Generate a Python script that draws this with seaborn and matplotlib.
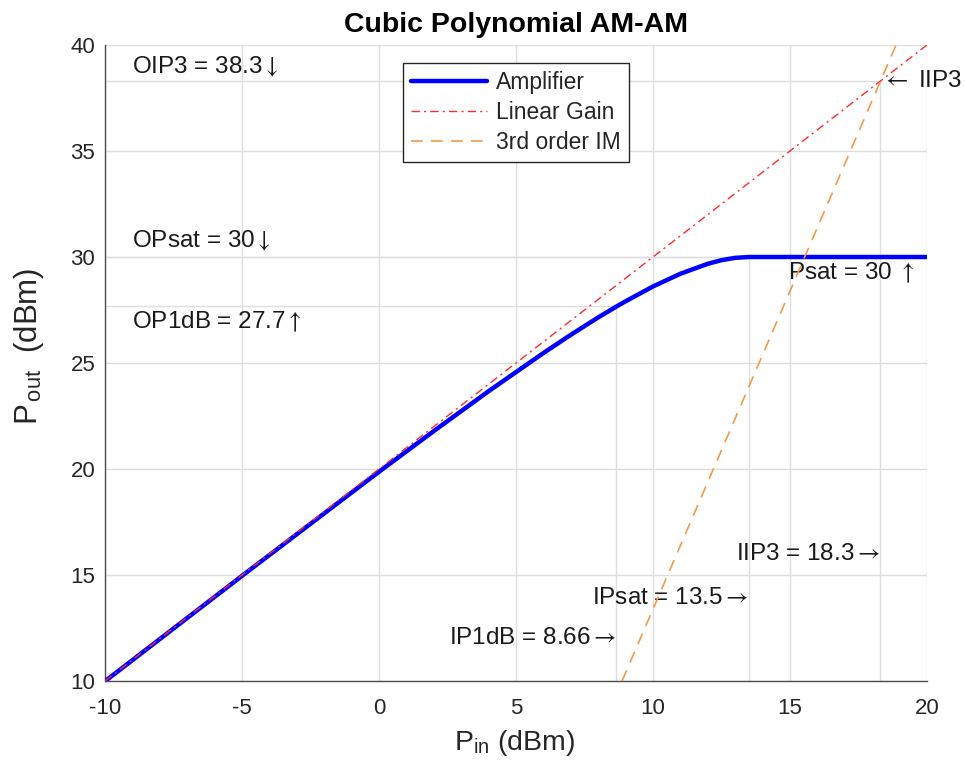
import matplotlib
matplotlib.use("Agg")
import matplotlib.pyplot as plt
import seaborn as sns
import pandas as pd

# Amplifier AM-AM curve
pin_amp = [-10, -5, 0, 2, 4, 6, 7, 8, 8.66, 9, 10, 11, 12, 12.5, 13, 13.5, 15, 20]
pout_amp = [9.99, 14.96, 19.87, 21.79, 23.67, 25.47, 26.33, 27.15, 27.66, 27.91,
            28.61, 29.21, 29.68, 29.85, 29.96, 30.0, 30.0, 30.0]

# Linear gain line
pin_lin = [-10, 20]
pout_lin = [10, 40]

# 3rd-order IM line
pin_im = [8.87, 18.87]
pout_im = [10, 40]

# Key points
ip1db, op1db = 8.66, 27.7
ipsat, opsat = 13.5, 30.0
iip3, oip3 = 18.3, 38.3

xticks = [-10, -5, 0, 5, 10, 15, 20]
yticks = [10, 15, 20, 25, 30, 35, 40]

sns.set_style("white")
plt.rcParams['font.family'] = ['Liberation Sans', 'DejaVu Sans']
plt.rcParams['axes.unicode_minus'] = False
plt.rcParams['mathtext.fontset'] = 'stixsans'

fig = plt.figure(figsize=(9.65, 7.67), dpi=100)
ax = fig.add_axes([105/965, 1 - 681/767, (927-105)/965, (681-45)/767])

gc = '#dedede'
ax.set_xlim(-10, 20)
ax.set_ylim(10, 40)
ax.set_xticks(xticks)
ax.set_yticks(yticks)
ax.grid(True, color=gc, linewidth=1.0, zorder=0)
ax.set_axisbelow(True)

# marker lines
ax.hlines([oip3, opsat, op1db], -10, [iip3, 20, ip1db], color=gc, lw=1.0, zorder=0.5)
ax.vlines([ip1db, ipsat, iip3], 10, [op1db, opsat, oip3], color=gc, lw=1.0, zorder=0.5)

df_amp = pd.DataFrame({'Pin': pin_amp, 'Pout': pout_amp})
df_lin = pd.DataFrame({'Pin': pin_lin, 'Pout': pout_lin})
df_im = pd.DataFrame({'Pin': pin_im, 'Pout': pout_im})

sns.lineplot(data=df_amp, x='Pin', y='Pout', ax=ax, color='#0000ff', lw=3.2,
             label='Amplifier', sort=False, zorder=3)
sns.lineplot(data=df_lin, x='Pin', y='Pout', ax=ax, color='#ff2a2a', lw=1.0,
             linestyle=(0, (6, 3, 1.5, 3)), label='Linear Gain', sort=False, zorder=4)
sns.lineplot(data=df_im, x='Pin', y='Pout', ax=ax, color='#f2994a', lw=1.2,
             linestyle=(0, (7, 5)), label='3rd order IM', sort=False, zorder=4)

fs = 17.5
tc = '#1a1a1a'
DN, UP, RT, LT = r'$\downarrow$', r'$\uparrow$', r'$\rightarrow$', r'$\leftarrow$'
ax.text(-9.0, 38.95, f'OIP3 = {oip3}' + DN, fontsize=fs, va='center', ha='left', color=tc)
ax.text(-9.0, 30.75, f'OPsat = {opsat:g}' + DN, fontsize=fs, va='center', ha='left', color=tc)
ax.text(-9.0, 26.93, f'OP1dB = {op1db}' + UP, fontsize=fs, va='center', ha='left', color=tc)
ax.text(iip3 + 0.05, oip3, LT + ' IIP3', fontsize=fs, va='center', ha='left', color=tc)
ax.text(14.93, 29.25, f'Psat = {opsat:g} ' + UP, fontsize=fs, va='center', ha='left', color=tc)
ax.text(iip3, 16.0, f'IIP3 = {iip3}' + RT, fontsize=fs, va='center', ha='right', color=tc)
ax.text(ipsat, 13.92, f'IPsat = {ipsat}' + RT, fontsize=fs, va='center', ha='right', color=tc)
ax.text(ip1db, 12.03, f'IP1dB = {ip1db}' + RT, fontsize=fs, va='center', ha='right', color=tc)

ax.set_title('Cubic Polynomial AM-AM', fontsize=20.5, fontweight='bold', color='black', pad=9)
ax.set_xlabel(r'P$_{\mathregular{in}}$ (dBm)', fontsize=20.5, color='#262626', va='top')
ax.set_ylabel(r'P$_{\mathregular{\,out}}$  (dBm)', fontsize=22.5, color='#262626')
ax.xaxis.set_label_coords((515 - 105) / 822, (681 - 728) / 636)
ax.yaxis.set_label_coords((46 - 105) / 822, (681 - 346) / 636)

for s in ['top', 'right']:
    ax.spines[s].set_visible(False)
for s in ['left', 'bottom']:
    ax.spines[s].set_color('#4d4d4d')
    ax.spines[s].set_linewidth(1.0)
ax.tick_params(direction='in', length=6, width=1.0, color='#4d4d4d',
               labelsize=16, labelcolor='#262626')
ax.tick_params(axis='x', pad=12.5)
ax.tick_params(axis='y', pad=7)

leg = ax.legend(loc='upper left', bbox_to_anchor=(0.3625, 0.972), fontsize=16.5,
                frameon=True, fancybox=False, framealpha=1, edgecolor='#262626',
                handlelength=3.3, handletextpad=0.4, borderpad=0.35,
                labelspacing=0.3, borderaxespad=0)
leg.get_frame().set_linewidth(1.0)

fig.savefig('out.png', dpi=100)
